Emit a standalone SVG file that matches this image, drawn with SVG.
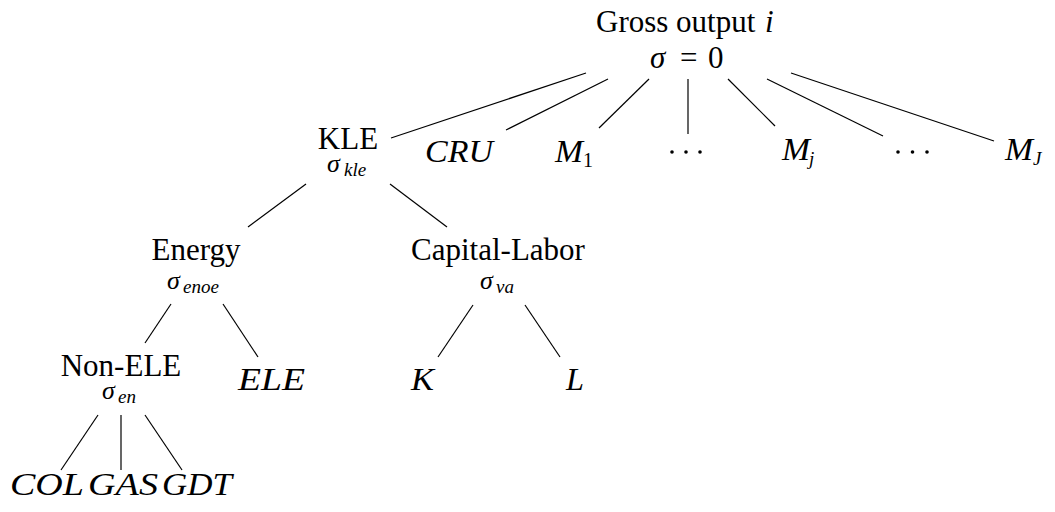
<svg xmlns="http://www.w3.org/2000/svg" width="1055" height="512" viewBox="0 0 1055 512">
<style>
text{font-family:"Liberation Serif","Times New Roman",serif;fill:#000}
.r{font-size:31px}
.m{font-size:31px;font-style:italic}
.g{font-size:26px;font-style:italic}
.s{font-size:19px;font-style:italic}
.n{font-size:31px}
.sub{font-size:20px}
line{stroke:#000;stroke-width:1.2;fill:none}
circle{fill:#000}
</style>
<rect width="1055" height="512" fill="#fff"/>
<g id="connectors">
<line x1="586" y1="73" x2="391" y2="138"/>
<line x1="608" y1="79" x2="506" y2="130"/>
<line x1="649" y1="79" x2="599" y2="128"/>
<line x1="688" y1="79" x2="688" y2="134"/>
<line x1="728" y1="79" x2="775" y2="126"/>
<line x1="767" y1="79" x2="883" y2="136"/>
<line x1="791" y1="73" x2="994" y2="141"/>
<line x1="306" y1="184" x2="248" y2="227"/>
<line x1="390" y1="184" x2="447" y2="227"/>
<line x1="171" y1="304" x2="145" y2="343"/>
<line x1="223" y1="304" x2="258" y2="357"/>
<line x1="473" y1="305" x2="438" y2="357"/>
<line x1="525" y1="305" x2="560" y2="357"/>
<line x1="98" y1="415" x2="61" y2="470"/>
<line x1="121" y1="415" x2="121" y2="470"/>
<line x1="145" y1="415" x2="182" y2="470"/>
</g>
<g id="root">
<text class="r" x="596" y="32">Gross output</text>
<text class="m" x="765" y="32">i</text>
<text class="m" x="650" y="68">σ</text>
<text class="n" x="680" y="68">=</text>
<text class="n" x="708" y="68">0</text>
</g>
<g id="kle">
<text class="r" x="348" y="149" text-anchor="middle">KLE</text>
<text class="g" x="327" y="172">σ</text>
<text class="s" x="344" y="176">kle</text>
</g>
<g id="cru">
<text class="m" x="425" y="162" textLength="68" lengthAdjust="spacingAndGlyphs">CRU</text>
</g>
<g id="m1">
<text class="m" x="555" y="162" textLength="28" lengthAdjust="spacingAndGlyphs">M</text>
<text class="sub" x="583" y="167">1</text>
</g>
<g id="dots1">
<circle cx="672" cy="152" r="1.8"/><circle cx="686" cy="152" r="1.8"/><circle cx="700" cy="152" r="1.8"/>
</g>
<g id="mj">
<text class="m" x="782" y="160" textLength="28" lengthAdjust="spacingAndGlyphs">M</text>
<text class="s" x="809" y="165" font-size="21px">j</text>
</g>
<g id="dots2">
<circle cx="898" cy="152" r="1.8"/><circle cx="912.5" cy="152" r="1.8"/><circle cx="927" cy="152" r="1.8"/>
</g>
<g id="mJ">
<text class="m" x="1005" y="160" textLength="28" lengthAdjust="spacingAndGlyphs">M</text>
<text class="s" x="1033" y="165" font-size="21px">J</text>
</g>
<g id="energy">
<text class="r" x="196" y="260" text-anchor="middle">Energy</text>
<text class="g" x="167" y="289">σ</text>
<text class="s" x="183" y="293">enoe</text>
</g>
<g id="capital-labor">
<text class="r" x="498" y="260" text-anchor="middle">Capital-Labor</text>
<text class="g" x="480" y="289">σ</text>
<text class="s" x="496" y="293">va</text>
</g>
<g id="non-ele">
<text class="r" x="121" y="376" text-anchor="middle">Non-ELE</text>
<text class="g" x="102" y="399">σ</text>
<text class="s" x="118" y="403">en</text>
</g>
<g id="ele">
<text class="m" x="238" y="390" textLength="67" lengthAdjust="spacingAndGlyphs">ELE</text>
</g>
<g id="k">
<text class="m" x="411" y="390" textLength="23" lengthAdjust="spacingAndGlyphs">K</text>
</g>
<g id="l">
<text class="m" x="566" y="390" textLength="18" lengthAdjust="spacingAndGlyphs">L</text>
</g>
<g id="col">
<text class="m" x="10" y="495" textLength="74" lengthAdjust="spacingAndGlyphs">COL</text>
</g>
<g id="gas">
<text class="m" x="88" y="495" textLength="70" lengthAdjust="spacingAndGlyphs">GAS</text>
</g>
<g id="gdt">
<text class="m" x="162" y="495" textLength="70" lengthAdjust="spacingAndGlyphs">GDT</text>
</g>
</svg>
